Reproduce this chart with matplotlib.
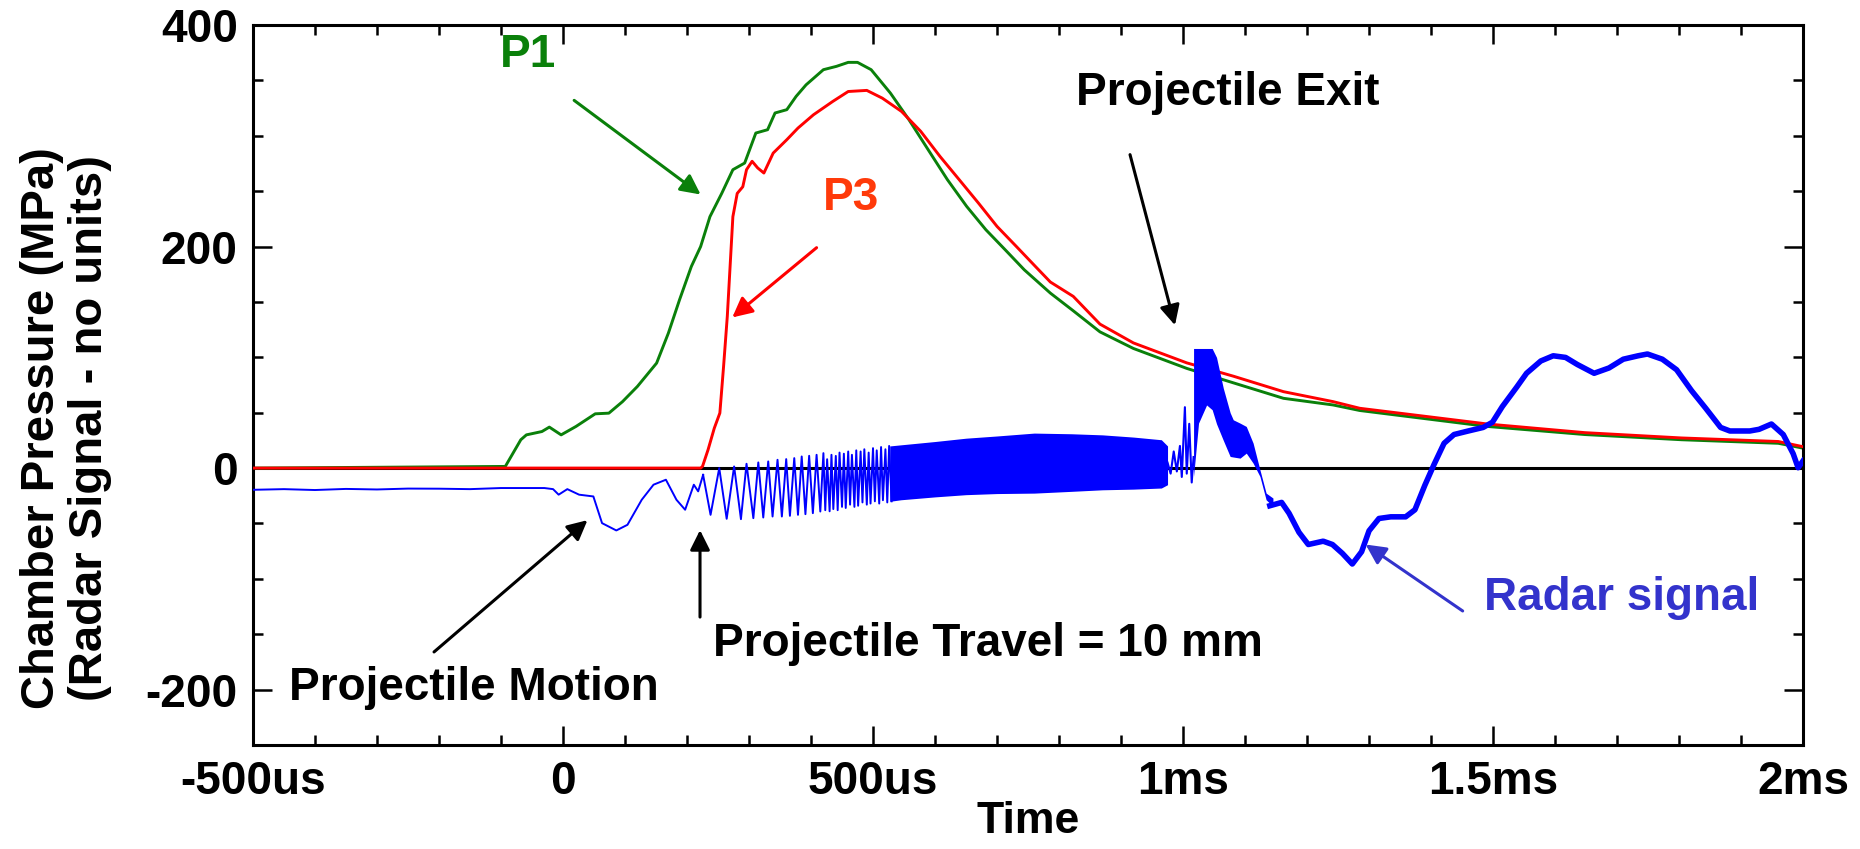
import matplotlib
matplotlib.use("Agg")
import matplotlib.pyplot as plt
from matplotlib.ticker import MultipleLocator

plt.rcParams['font.family'] = ['Liberation Sans', 'DejaVu Sans']
plt.rcParams['font.weight'] = 'bold'
plt.rcParams['axes.unicode_minus'] = False

# time in ms, values in MPa (radar: arbitrary units)
p1_t = [-0.5, -0.093, -0.068, -0.059, -0.034, -0.022, -0.003, 0.021, 0.052, 0.074,
        0.096, 0.120, 0.151, 0.170, 0.188, 0.207, 0.222, 0.237, 0.256, 0.274,
        0.293, 0.311, 0.330, 0.342, 0.361, 0.376, 0.392, 0.420, 0.441, 0.460,
        0.475, 0.497, 0.528, 0.558, 0.589, 0.620, 0.651, 0.682, 0.713, 0.744,
        0.786, 0.823, 0.866, 0.920, 1.006, 1.081, 1.162, 1.242, 1.285, 1.491,
        1.648, 1.804, 1.960, 2.0]
p1_v = [0, 1.5, 25.6, 30, 33, 37, 30, 37.6, 49, 49.6,
        60, 73.7, 94.8, 121.9, 152, 182, 200, 227, 248, 269.4,
        275.4, 302.5, 305.5, 320.6, 323.6, 335.6, 346, 359.7, 362.7, 366.3,
        366.3, 359.7, 338.6, 314.5, 287.4, 260.4, 236.3, 215.2, 197.2, 179,
        158, 142, 123, 108, 90, 77, 63, 57, 52, 37.6,
        30.3, 25.6, 22.4, 18]

p3_t = [-0.5, 0.222, 0.225, 0.234, 0.244, 0.253, 0.259, 0.265, 0.271, 0.274,
        0.281, 0.290, 0.296, 0.305, 0.314, 0.324, 0.339, 0.361, 0.379, 0.404,
        0.435, 0.460, 0.490, 0.515, 0.546, 0.577, 0.608, 0.639, 0.670, 0.700,
        0.731, 0.762, 0.786, 0.823, 0.866, 0.920, 1.006, 1.081, 1.162, 1.242,
        1.285, 1.491, 1.648, 1.804, 1.960, 2.0]
p3_v = [0, 0, 1.5, 16.6, 36, 49.7, 91.8, 137, 197, 227,
        248, 254, 269.4, 277, 271, 266.4, 284.4, 296.5, 307, 319,
        331, 340, 341, 334, 322, 304, 281.4, 260.4, 239.3, 218.2,
        200.2, 182, 168, 155, 130, 113, 95, 83, 69, 60,
        54, 39.8, 32, 27.2, 24, 19.3]

# radar: quiet part and first slow swings
radar_pre_t = [-0.5, -0.45, -0.40, -0.35, -0.30, -0.25, -0.20, -0.15, -0.10, -0.03,
               -0.016, -0.007, 0.007, 0.026, 0.049, 0.063, 0.086, 0.104, 0.127, 0.146,
               0.166, 0.183, 0.197, 0.211, 0.218, 0.226]
radar_pre_v = [-19.6, -19.0, -19.8, -18.8, -19.3, -18.5, -18.6, -19.0, -18.0, -18.0,
               -19, -24, -19, -24, -25.6, -49.7, -56.3, -51.2, -28.6, -15,
               -10.5, -28.6, -37.6, -15, -21, -6.1]

# radar: individual oscillation peaks and troughs
osc_t = [0.226, 0.238, 0.252, 0.264, 0.276, 0.287, 0.296, 0.307, 0.315, 0.323,
         0.331, 0.338, 0.346, 0.353, 0.360, 0.366, 0.373, 0.379, 0.385, 0.391,
         0.397, 0.403, 0.409, 0.415, 0.420, 0.423, 0.426, 0.430, 0.433, 0.436,
         0.440, 0.443, 0.446, 0.450, 0.453, 0.456, 0.460, 0.463, 0.466, 0.470,
         0.473, 0.476, 0.480, 0.483, 0.486, 0.490, 0.493, 0.496, 0.500, 0.503,
         0.506, 0.510, 0.513, 0.516, 0.520, 0.523, 0.526, 0.530]
osc_v = [-6.1, -42.2, 0, -45.8, 1.5, -46.1, 3.9, -45.2, 5.1, -44.6,
         6, -43.7, 7.5, -43.7, 8.1, -43.1, 9, -42.2, 10.5, -41.6,
         11.1, -40.7, 12, -39.2, 13.5, -38, 8, -39, 12, -37,
         11, -38, 14, -35, 13, -36, 15, -33, 12, -35,
         16, -34, 15, -31, 17, -33, 14, -32, 18, -30,
         16, -32, 19, -29, 17, -31, 20, -30]

# radar: dense oscillation envelope
env_t = [0.527, 0.545, 0.60, 0.65, 0.70, 0.76, 0.82, 0.87, 0.92, 0.965, 0.975]
env_hi = [20, 21, 24, 27, 29, 31.6, 31, 30, 28, 25.6, 20]
env_lo = [-30, -28.6, -26, -24, -23, -22.6, -21, -19.6, -19, -18, -15]

# radar: spikes just before exit
spike_t = [0.975, 0.980, 0.985, 0.990, 0.995, 0.998, 1.003, 1.006, 1.010, 1.014, 1.017]
spike_v = [5, -5, 15, -3, 20, -8, 55, -5, 40, -13, 10]

# radar: saturated block at exit
blk_t = [1.017, 1.025, 1.038, 1.047, 1.054, 1.065, 1.076, 1.081, 1.092, 1.102, 1.113, 1.124, 1.134, 1.145]
blk_hi = [108, 108, 108, 108, 100, 72, 50, 43.6, 40.6, 37.6, 22.6, -1.5, -22.6, -27]
blk_lo = [-7.5, 40.6, 57, 52.7, 40, 25, 10.5, 10, 9, 13.5, 4.5, -7.5, -28.6, -34.6]

# radar: after exit
radar_post_t = [1.140, 1.159, 1.171, 1.187, 1.202, 1.226, 1.241, 1.257, 1.273, 1.288,
                1.300, 1.316, 1.335, 1.359, 1.374, 1.390, 1.405, 1.421, 1.437, 1.460,
                1.484, 1.499, 1.515, 1.538, 1.554, 1.577, 1.597, 1.617, 1.636, 1.663,
                1.687, 1.710, 1.734, 1.749, 1.773, 1.796, 1.820, 1.843, 1.867, 1.882,
                1.914, 1.929, 1.949, 1.968, 1.984, 1.992, 2.0]
radar_post_v = [-34, -31, -40.8, -58, -69, -66, -69, -77, -86.6, -75.5,
                -56.6, -45.5, -44, -44, -37.6, -15.5, 3.5, 22.4, 30.3, 33.5,
                36.7, 41.4, 55.6, 73, 85.6, 96.7, 101.4, 99.9, 93.5, 85.6,
                90.4, 98.3, 101.4, 103, 98.3, 88.8, 70, 54, 36.7, 33.5,
                33.5, 35, 39.8, 30.3, 13, 0.3, 6.6]

xtick_pos = [-0.5, 0, 0.5, 1.0, 1.5, 2.0]
xtick_lab = ['-500us', '0', '500us', '1ms', '1.5ms', '2ms']
ytick_pos = [-200, 0, 200, 400]

green = '#0a800a'
red = '#ff0000'
blue = '#0000ff'

fig = plt.figure(figsize=(18.6, 8.49), dpi=100)
ax = fig.add_axes([0.136, 0.1225, 0.8334, 0.848])

ax.axhline(0, color='black', lw=2.2, zorder=1)
ax.plot(p1_t, p1_v, color=green, lw=2.1, zorder=2)
ax.plot(p3_t, p3_v, color=red, lw=2.1, zorder=3)

ax.plot(radar_pre_t, radar_pre_v, color=blue, lw=1.4, zorder=4)
ax.plot(osc_t, osc_v, color=blue, lw=1.4, zorder=4)
ax.fill_between(env_t, env_lo, env_hi, color=blue, lw=0, zorder=4)
ax.plot(spike_t, spike_v, color=blue, lw=1.5, zorder=4)
ax.fill_between(blk_t, blk_lo, blk_hi, color=blue, lw=0, zorder=4)
ax.plot(radar_post_t, radar_post_v, color=blue, lw=4, zorder=4)

ax.set_xlim(-0.5, 2.0)
ax.set_ylim(-250, 400)
ax.set_xticks(xtick_pos)
ax.set_xticklabels(xtick_lab)
ax.set_yticks(ytick_pos)
ax.xaxis.set_minor_locator(MultipleLocator(0.1))
ax.yaxis.set_minor_locator(MultipleLocator(50))
ax.tick_params(which='both', direction='in', top=True, right=True, width=1.8,
               labelsize=33, colors='black')
ax.tick_params(which='major', length=14, pad=11)
ax.tick_params(which='minor', length=7)
for s in ax.spines.values():
    s.set_linewidth(2.2)

ax.set_xlabel('Time', fontsize=32, fontweight='bold', labelpad=-2)
ax.set_ylabel('Chamber Pressure (MPa)\n(Radar Signal - no units)', fontsize=34,
              fontweight='bold', linespacing=1.1)
ax.yaxis.set_label_coords(-0.091, 0.44)

fs = 33
ax.text(-0.056, 362, 'P1', color=green, fontsize=fs, fontweight='bold', ha='center', va='baseline')
ax.text(0.4645, 233, 'P3', color='#ff3a0a', fontsize=fs, fontweight='bold', ha='center', va='baseline')
ax.text(1.0726, 328, 'Projectile Exit', color='black', fontsize=fs, fontweight='bold', ha='center', va='baseline')
ax.text(-0.1435, -209, 'Projectile Motion', color='black', fontsize=fs, fontweight='bold', ha='center', va='baseline')
ax.text(0.6855, -170, 'Projectile Travel = 10 mm', color='black', fontsize=fs, fontweight='bold', ha='center', va='baseline')
ax.text(1.708, -127.8, 'Radar signal', color='#3333cc', fontsize=fs, fontweight='bold', ha='center', va='baseline')

def arrow(tail, head, color):
    ax.annotate('', xy=head, xytext=tail,
                arrowprops=dict(arrowstyle='-|>', color=color, lw=2.2, mutation_scale=30,
                                shrinkA=0, shrinkB=0))

arrow((0.018, 332), (0.222, 247), green)
arrow((0.409, 199), (0.273, 136), red)
arrow((0.9145, 283), (0.987, 129), 'black')
arrow((-0.208, -166), (0.0395, -47), 'black')
arrow((0.221, -134.5), (0.221, -56), 'black')
arrow((1.451, -129), (1.2945, -69), '#3333cc')

fig.savefig('out.png', dpi=100)
